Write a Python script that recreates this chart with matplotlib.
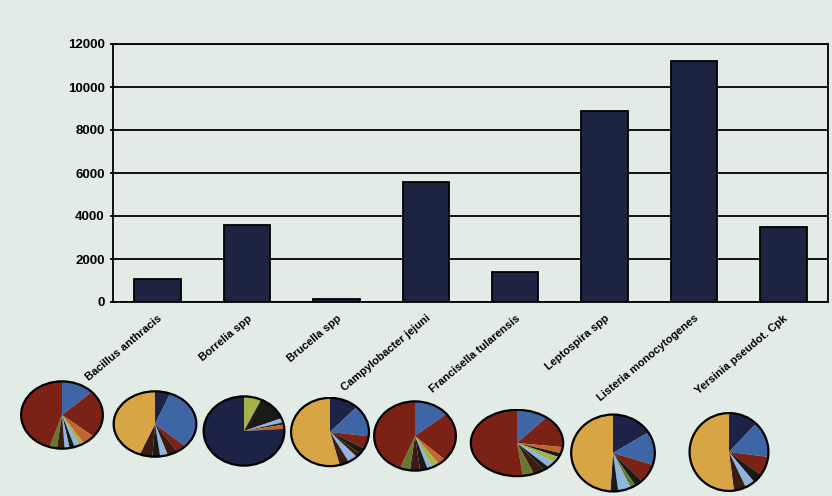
import numpy as np
import matplotlib
matplotlib.use('Agg')
import matplotlib.pyplot as plt
from matplotlib.patches import Circle

plt.rcParams['font.family'] = ['Liberation Sans', 'DejaVu Sans']

pathogens = ['Bacillus anthracis', 'Borrelia spp', 'Brucella spp', 'Campylobacter jejuni',
             'Francisella tularensis', 'Leptospira spp', 'Listeria monocytogenes',
             'Yersinia pseudot. Cpk']
values = [1050, 3600, 120, 5600, 1400, 8900, 11200, 3500]
yticks = [0, 2000, 4000, 6000, 8000, 10000, 12000]

# pie slices, clockwise from 12 o'clock
navy = '#1d2347'
blue = '#3e66a6'
red = '#7b2116'
mustard = '#d8a544'
olive = '#66782f'
lime = '#a3b24a'
lblue = '#8fb4e0'
orange = '#c4652d'
dark = '#1b1b16'
brown = '#3b1b12'

pie_values = [
    [13, 23, 5, 2, 2, 2, 2, 3, 3, 45],
    [6, 31, 4, 4, 3, 3, 5, 44],
    [7, 12, 2, 1, 2, 76],
    [12, 15, 6, 3, 2, 4, 4, 54],
    [14, 23, 3, 3, 2, 3, 4, 4, 44],
    [11, 16, 3, 2, 3, 3, 2, 4, 4, 52],
    [16, 14, 8, 3, 2, 5, 3, 49],
    [12, 15, 8, 4, 4, 5, 52],
]
pie_colors = [
    [blue, red, orange, lime, lblue, dark, lblue, brown, olive, red],
    [navy, blue, red, brown, lblue, dark, brown, mustard],
    [lime, dark, lblue, dark, orange, navy],
    [navy, blue, red, dark, brown, lblue, brown, mustard],
    [blue, red, orange, lime, lblue, dark, brown, olive, red],
    [blue, red, orange, dark, lime, lblue, dark, brown, olive, red],
    [navy, blue, red, dark, olive, lblue, dark, mustard],
    [navy, blue, red, dark, lblue, brown, mustard],
]
# pie centres and sizes in pixels (x, y from top, w, h)
pie_boxes = [(62, 415, 85, 70), (155, 424, 86, 68), (244, 431, 84, 72), (330, 432, 81, 71),
             (415, 436, 85, 72), (517, 443, 96, 69), (613, 453, 87, 80), (729, 452, 82, 81)]

bg = '#e3ebe6'
W, H = 832, 496
fig = plt.figure(figsize=(W / 100, H / 100), dpi=100, facecolor=bg)

ax = fig.add_axes([113 / W, 1 - 302 / H, 715 / W, 258 / H])
ax.set_facecolor('none')
x = np.arange(len(pathogens))
ax.bar(x, values, width=0.52, color='#1c2442', edgecolor='black', linewidth=1.3, zorder=3)
ax.set_xlim(-0.5, len(pathogens) - 0.5)
ax.set_ylim(0, 12000)
ax.set_yticks(yticks)
ax.set_yticklabels([str(t) for t in yticks], fontsize=9.5, fontweight='bold')
ax.yaxis.grid(True, color='black', linewidth=1.3, zorder=0)
ax.set_axisbelow(True)
ax.set_xticks(x)
ax.set_xticklabels(pathogens, rotation=40, ha='right', rotation_mode='anchor',
                   fontsize=8, fontweight='bold')
ax.tick_params(axis='x', length=0, pad=8)
ax.tick_params(axis='y', direction='inout', length=4, width=1.3, pad=4)
for s in ax.spines.values():
    s.set_linewidth(1.3)
    s.set_color('black')

for vals, cols, (cx, cy, w, h) in zip(pie_values, pie_colors, pie_boxes):
    pax = fig.add_axes([(cx - w / 2) / W, 1 - (cy + h / 2) / H, w / W, h / H])
    pax.pie(vals, colors=cols, startangle=90, counterclock=False,
            wedgeprops={'linewidth': 0})
    pax.add_patch(Circle((0, 0), 1, fill=False, edgecolor='black', linewidth=1.6))
    pax.set_aspect('auto')
    pax.set_xlim(-1.04, 1.04)
    pax.set_ylim(-1.04, 1.04)
    pax.axis('off')

fig.savefig('out.png', dpi=100, facecolor=bg)
